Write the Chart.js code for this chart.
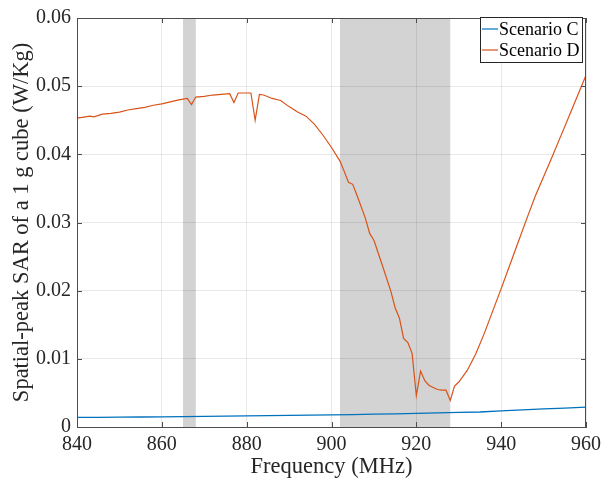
<!DOCTYPE html>
<html>
<head>
<meta charset="utf-8">
<script src="https://cdn.jsdelivr.net/npm/chart.js@4"></script>
<style>
  html, body { margin: 0; padding: 0; background: #fff; }
  #wrap { width: 610px; height: 485px; }
</style>
</head>
<body>
<div id="wrap"><canvas id="sar" width="610" height="485"></canvas></div>
<script>
// data
const freqC = [840, 845, 850, 855, 860, 865, 870, 875, 880, 885, 890, 895, 900, 905, 910, 915, 920, 925, 930, 935, 940, 945, 950, 955, 960];
const sarC = [0.0014, 0.00142, 0.00145, 0.00147, 0.0015, 0.00153, 0.00156, 0.00159, 0.00162, 0.00166, 0.0017, 0.00174, 0.00178, 0.00183, 0.00188, 0.00194, 0.002, 0.00207, 0.00215, 0.0022, 0.00238, 0.0025, 0.00265, 0.00278, 0.00292];

const freqD = [840, 842, 843, 844, 846, 848, 850, 852, 854, 856, 858, 860, 862, 864, 866, 867, 868, 870, 872, 874, 876, 877, 878, 880, 881, 882, 883, 884, 886, 888, 890, 892, 894, 896, 898, 900, 902, 903, 904, 905, 906, 908, 909, 910, 912, 914, 915, 916, 917, 918, 919, 920, 921, 922, 923, 924, 925, 926, 927, 928, 929, 930, 932, 934, 936, 938, 940, 942, 944, 946, 948, 950, 952, 954, 956, 958, 960];
const sarD = [0.0453, 0.0455, 0.0456, 0.0455, 0.0459, 0.046, 0.0462, 0.0465, 0.0467, 0.0469, 0.0472, 0.0474, 0.0477, 0.048, 0.0482, 0.0473, 0.0484, 0.0485, 0.0487, 0.0488, 0.0489, 0.0476, 0.049, 0.049, 0.049, 0.045, 0.0488, 0.0487, 0.0482, 0.0479, 0.047, 0.0462, 0.0456, 0.0444, 0.0428, 0.041, 0.039, 0.0375, 0.0359, 0.0356, 0.034, 0.0306, 0.0284, 0.0274, 0.0237, 0.0199, 0.0175, 0.016, 0.013, 0.0124, 0.0108, 0.0046, 0.0082, 0.0068, 0.0061, 0.0058, 0.0055, 0.0054, 0.0054, 0.0039, 0.006, 0.0066, 0.0083, 0.0107, 0.0137, 0.017, 0.0203, 0.0237, 0.0271, 0.0305, 0.0338, 0.0367, 0.0396, 0.0426, 0.0456, 0.0486, 0.0516];

// shaded frequency bands (MHz)
const bandStart = [865, 902];
const bandEnd = [868, 928];

const seriesNames = ["Scenario C", "Scenario D"];
const seriesColors = ["#0072BD", "#D95319"];

const serif = "'Liberation Serif', 'Times New Roman', serif";
const ink = "#262626";

// gray bands behind grid and lines
const bandsPlugin = {
  id: "bands",
  beforeDraw(chart) {
    const { ctx, chartArea, scales } = chart;
    ctx.save();
    ctx.fillStyle = "#d3d3d3";
    for (let i = 0; i < bandStart.length; i++) {
      const x0 = scales.x.getPixelForValue(bandStart[i]);
      const x1 = scales.x.getPixelForValue(bandEnd[i]);
      ctx.fillRect(x0, chartArea.top, x1 - x0, chartArea.bottom - chartArea.top);
    }
    ctx.restore();
  },
};

// box, inward ticks and framed legend, MATLAB style
const boxPlugin = {
  id: "box",
  afterDraw(chart) {
    const { ctx, chartArea: a, scales } = chart;
    ctx.save();
    ctx.strokeStyle = "#4d4d4d";
    ctx.lineWidth = 1;
    ctx.strokeRect(a.left + 0.5, a.top + 0.5, a.right - a.left - 1, a.bottom - a.top);

    const tl = 5;
    ctx.beginPath();
    scales.x.ticks.forEach((t) => {
      const px = Math.round(scales.x.getPixelForValue(t.value)) + 0.5;
      ctx.moveTo(px, a.bottom); ctx.lineTo(px, a.bottom - tl);
      ctx.moveTo(px, a.top); ctx.lineTo(px, a.top + tl);
    });
    scales.y.ticks.forEach((t) => {
      const py = Math.round(scales.y.getPixelForValue(t.value)) + 0.5;
      ctx.moveTo(a.left, py); ctx.lineTo(a.left + tl, py);
      ctx.moveTo(a.right, py); ctx.lineTo(a.right - tl, py);
    });
    ctx.stroke();

    // legend
    const lx = 480, ly = 17, lw = 102, lh = 45;
    ctx.fillStyle = "#fff";
    ctx.fillRect(lx, ly, lw, lh);
    ctx.strokeStyle = "#262626";
    ctx.strokeRect(lx + 0.5, ly + 0.5, lw, lh);
    ctx.font = "18px " + serif;
    ctx.textBaseline = "middle";
    chart.data.datasets.forEach((ds, i) => {
      const y = ly + 12 + i * 21;
      ctx.strokeStyle = ds.borderColor;
      ctx.lineWidth = 1.2;
      ctx.beginPath();
      ctx.moveTo(lx + 2, y);
      ctx.lineTo(lx + 18, y);
      ctx.stroke();
      ctx.fillStyle = "#000";
      ctx.fillText(ds.label, lx + 19, y + 1);
    });
    ctx.restore();
  },
};

const ctx = document.getElementById("sar");
new Chart(ctx, {
  type: "line",
  data: {
    datasets: [
      {
        label: seriesNames[0],
        data: freqC.map((f, i) => ({ x: f, y: sarC[i] })),
        borderColor: seriesColors[0],
        borderWidth: 1.3,
        pointRadius: 0,
        tension: 0,
      },
      {
        label: seriesNames[1],
        data: freqD.map((f, i) => ({ x: f, y: sarD[i] })),
        borderColor: seriesColors[1],
        borderWidth: 1.2,
        pointRadius: 0,
        tension: 0,
      },
    ],
  },
  options: {
    responsive: false,
    animation: false,
    layout: { padding: { top: 14, right: 24, left: 0, bottom: 0 } },
    plugins: { legend: { display: false }, tooltip: { enabled: false } },
    scales: {
      x: {
        type: "linear",
        min: 840,
        max: 960,
        afterFit: (s) => { s.height = 58; },
        ticks: {
          stepSize: 20,
          color: ink,
          padding: 6,
          font: { family: serif, size: 20 },
          maxRotation: 0,
        },
        grid: { color: "rgba(0,0,0,0.09)", drawTicks: false },
        border: { color: "#4d4d4d" },
        title: {
          display: true,
          text: "Frequency (MHz)",
          color: ink,
          font: { family: serif, size: 22.5 },
          padding: { top: 0, bottom: 4 },
        },
      },
      y: {
        min: 0,
        max: 0.06,
        afterFit: (s) => { s.width = 77; },
        ticks: {
          stepSize: 0.01,
          color: ink,
          padding: 6,
          font: { family: serif, size: 20 },
          callback: (v) => (v === 0 ? "0" : v.toFixed(2)),
        },
        grid: { color: "rgba(0,0,0,0.09)", drawTicks: false },
        border: { color: "#4d4d4d" },
        title: {
          display: true,
          text: "Spatial-peak SAR of a 1 g cube (W/Kg)",
          color: ink,
          font: { family: serif, size: 22.5 },
          padding: { top: 9, bottom: 0 },
        },
      },
    },
  },
  plugins: [bandsPlugin, boxPlugin],
});
</script>
</body>
</html>
